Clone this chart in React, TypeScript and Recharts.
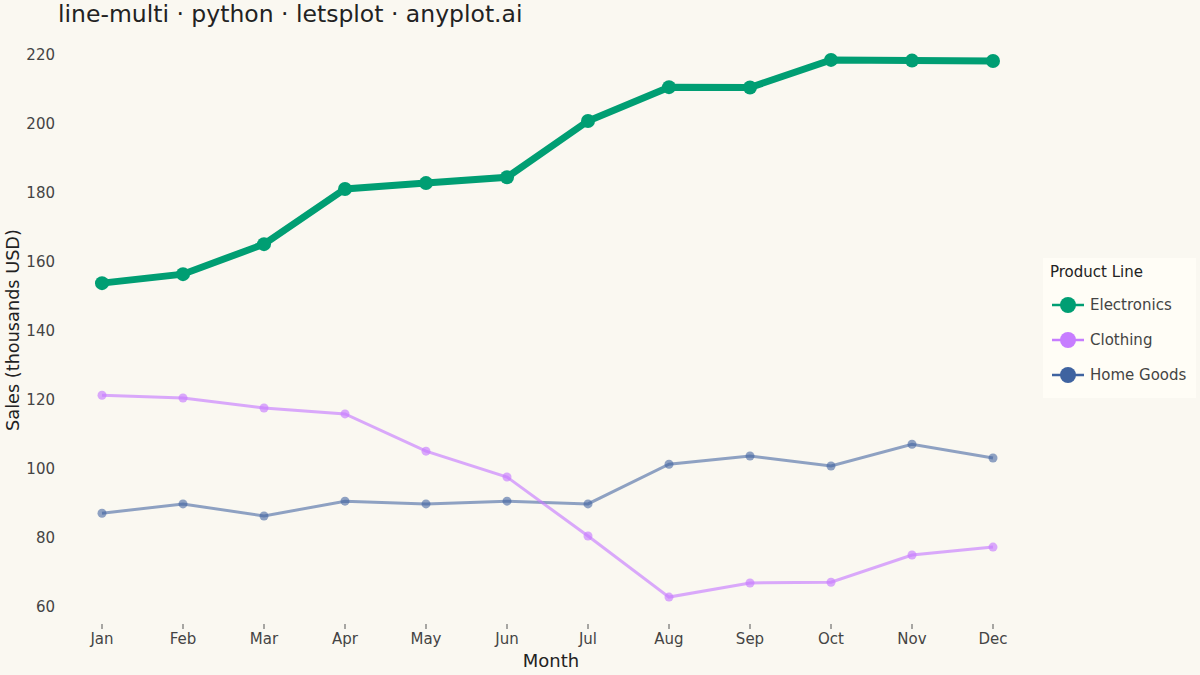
import { Line, LineChart, XAxis, YAxis } from "recharts";

const months = ["Jan", "Feb", "Mar", "Apr", "May", "Jun", "Jul", "Aug", "Sep", "Oct", "Nov", "Dec"];
const electronics = [153.9, 156.5, 165.2, 181.2, 182.9, 184.6, 200.9, 210.7, 210.6, 218.6, 218.4, 218.3];
const clothing = [121.4, 120.6, 117.7, 116.0, 105.2, 97.7, 80.6, 62.9, 67.0, 67.2, 75.1, 77.4];
const homeGoods = [87.2, 89.9, 86.4, 90.7, 89.9, 90.7, 89.9, 101.4, 103.8, 100.9, 107.2, 103.2];
const yTicks = [60, 80, 100, 120, 140, 160, 180, 200, 220];

const series = [
  { key: "electronics", name: "Electronics", color: "#009E73", width: 7, r: 7, opacity: 1 },
  { key: "clothing", name: "Clothing", color: "#C77DFF", width: 3, r: 4.5, opacity: 0.65 },
  { key: "homeGoods", name: "Home Goods", color: "#3F63A0", width: 3, r: 4.5, opacity: 0.58 },
];

const data = months.map((m, i) => ({
  month: m,
  electronics: electronics[i],
  clothing: clothing[i],
  homeGoods: homeGoods[i],
}));

const font = "'DejaVu Sans', sans-serif";

const LegendBox = () => (
  <div
    style={{
      position: "absolute",
      left: 1043,
      top: 258,
      width: 153,
      height: 140,
      boxSizing: "border-box",
      background: "#FFFDF6",
      padding: "5px 8px 0 7px",
      fontFamily: font,
    }}
  >
    <div style={{ fontSize: 15, color: "#222", marginBottom: 6, lineHeight: "18px" }}>Product Line</div>
    {series.map((s) => (
      <div key={s.key} style={{ display: "flex", alignItems: "center", height: 35 }}>
        <svg width={36} height={20} style={{ marginRight: 4 }}>
          <line x1={2} y1={10} x2={34} y2={10} stroke={s.color} strokeWidth={2.5} />
          <circle cx={18} cy={10} r={8} fill={s.color} />
        </svg>
        <span style={{ fontSize: 15, color: "#444" }}>{s.name}</span>
      </div>
    ))}
  </div>
);

const YLabel = () => (
  <text
    x={13}
    y={330}
    transform="rotate(-90 13 330)"
    textAnchor="middle"
    dominantBaseline="central"
    fontFamily={font}
    fontSize={17.7}
    fill="#222"
  >
    Sales (thousands USD)
  </text>
);

const App = () => {
  return (
    <div
      style={{
        position: "absolute",
        left: 0,
        top: 0,
        width: 1200,
        height: 675,
        background: "#FAF8F1",
        fontFamily: font,
      }}
    >
      <div
        style={{
          position: "absolute",
          left: 58,
          top: 3,
          fontSize: 23.5,
          lineHeight: 1,
          color: "#222",
          whiteSpace: "nowrap",
        }}
      >
        line-multi · python · letsplot · anyplot.ai
      </div>
      <LineChart width={1200} height={675} data={data} margin={{ top: 33, right: 158, bottom: 0, left: 0 }}>
        <XAxis
          dataKey="month"
          padding={{ left: 42, right: 49 }}
          axisLine={false}
          tickSize={5}
          tickMargin={4}
          height={51}
          tickLine={{ stroke: "#555" }}
          tick={{ fill: "#444", fontSize: 15, fontFamily: font }}
          label={{ value: "Month", position: "insideBottom", offset: 8, fill: "#222", fontSize: 18, fontFamily: font }}
        />
        <YAxis
          width={60}
          domain={[55.1, 226.4]}
          ticks={yTicks}
          allowDataOverflow
          axisLine={false}
          tickLine={false}
          tickMargin={-1}
          tick={{ fill: "#444", fontSize: 15, fontFamily: font }}
          label={<YLabel />}
        />
        {series
          .slice()
          .reverse()
          .map((s) => (
            <Line
              key={s.key}
              dataKey={s.key}
              name={s.name}
              type="linear"
              stroke={s.color}
              strokeWidth={s.width}
              strokeOpacity={s.opacity}
              dot={{ r: s.r, fill: s.color, fillOpacity: s.opacity, stroke: "none" }}
              activeDot={false}
              isAnimationActive={false}
            />
          ))}
      </LineChart>
      <LegendBox />
    </div>
  );
};

export default App;
